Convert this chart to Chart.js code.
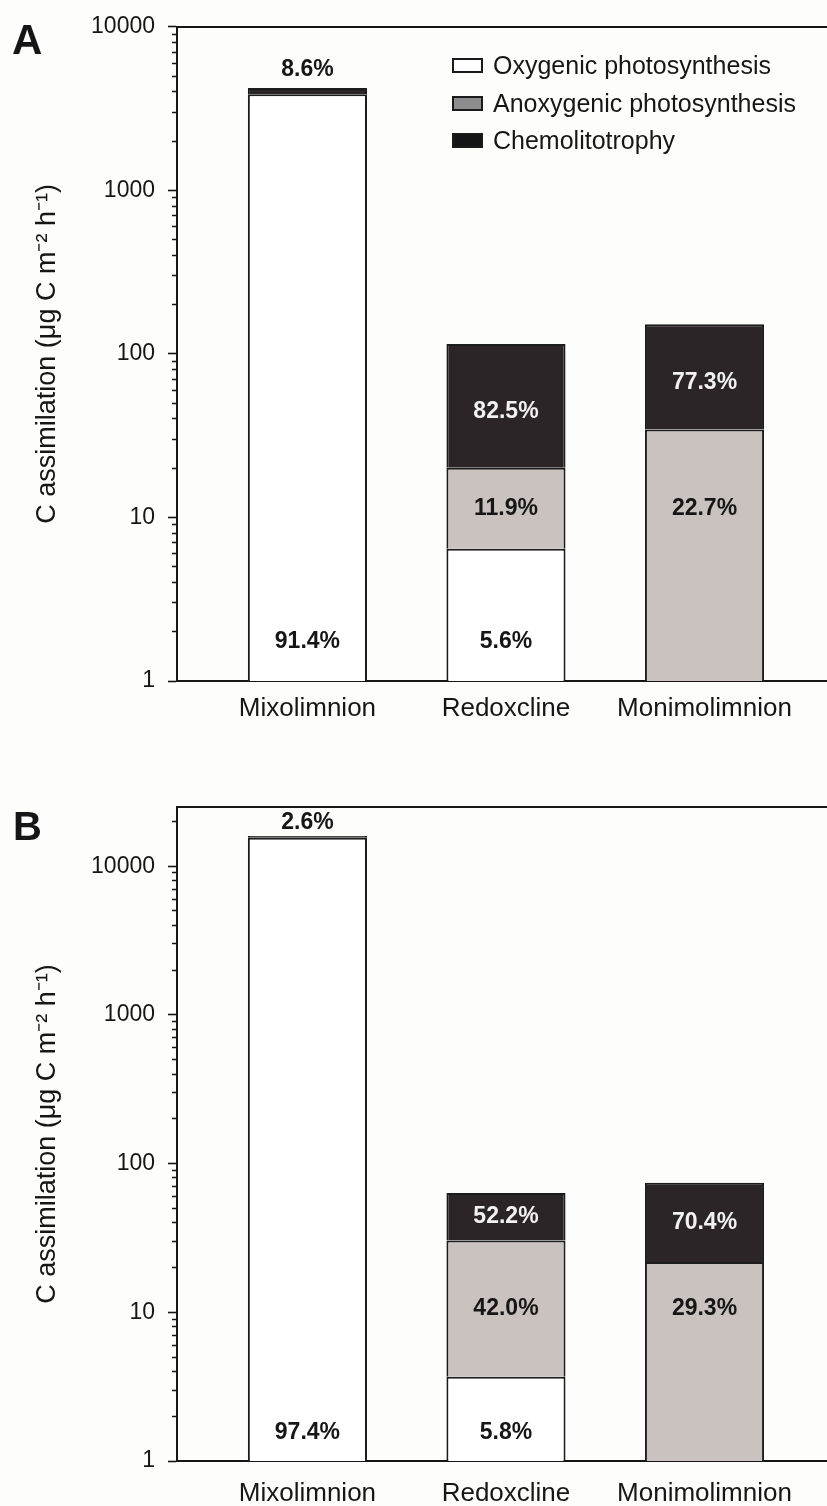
<!DOCTYPE html>
<html>
<head>
<meta charset="utf-8">
<script src="https://cdn.jsdelivr.net/npm/chart.js@4.4.1/dist/chart.umd.min.js"></script>
<style>
  html, body { margin: 0; padding: 0; width: 827px; height: 1506px; overflow: hidden; background: #fdfdfc; font-family: "Liberation Sans", Arial, sans-serif; color: #161616; }
  .panel { position: absolute; left: 0; width: 827px; }
  #panelA { top: 0; height: 740px; }
  #panelB { top: 740px; height: 766px; }
  .letter { position: absolute; font-weight: bold; line-height: 1; }
  .lg-row { position: absolute; left: 452px; height: 30px; display: flex; align-items: center; font-size: 25px; white-space: nowrap; }
  .lg-box { width: 31px; height: 15px; box-sizing: border-box; border: 2px solid #1a1a1a; margin-right: 10px; }
</style>
</head>
<body>
<div class="panel" id="panelA"><canvas id="chartA"></canvas></div>
<div class="panel" id="panelB"><canvas id="chartB"></canvas></div>
<div class="letter" style="left:12px; top:19px; font-size:42px;">A</div>
<div class="letter" style="left:13px; top:806px; font-size:40px;">B</div>
<div id="legend"></div>

<script>
// Layers of the water column
const categories = ['Mixolimnion', 'Redoxcline', 'Monimolimnion'];
const seriesNames = ['Oxygenic photosynthesis', 'Anoxygenic photosynthesis', 'Chemolitotrophy'];

// Panel A: total C assimilation per layer (µg C m-2 h-1) and share of each pathway (%)
const totalA = [4230, 115, 152];
const oxygenicPctA = [91.4, 5.6, 0];
const anoxygenicPctA = [0, 11.9, 22.7];
const chemoPctA = [8.6, 82.5, 77.3];

// Panel B
const totalB = [15960, 63.5, 74.5];
const oxygenicPctB = [97.4, 5.8, 0];
const anoxygenicPctB = [0, 42.0, 29.3];
const chemoPctB = [2.6, 52.2, 70.4];

// Labelled decades on the log axis
const yTickLabelsA = [1, 10, 100, 1000, 10000];
const yTickLabelsB = [1, 10, 100, 1000, 10000];

const FONT = '"Liberation Sans", Arial, sans-serif';
const INK = '#161616';
const fills = ['#ffffff', '#c9c2bf', '#2b2527'];
const legendFills = ['#ffffff', '#8d8d8d', '#151515'];
const labelColors = [INK, INK, '#f2f2f2'];

// Percent labels on each segment
const pctLabels = {
  id: 'pctLabels',
  afterDatasetsDraw(chart, args, opts) {
    const ctx = chart.ctx;
    const pcts = opts.pcts;
    const metas = [0, 1, 2].map(i => chart.getDatasetMeta(i));
    const seg = (i, j) => metas[i].data[j].getProps(['x', 'y', 'base'], true);
    // anoxygenic labels share one row: the middle of a segment that sits on an oxygenic one
    let anoxRow = null;
    categories.forEach((c, j) => {
      if (anoxRow === null && pcts[0][j] > 0 && pcts[1][j] > 0) {
        const s = seg(1, j);
        anoxRow = (s.y + s.base) / 2;
      }
    });
    ctx.save();
    ctx.font = 'bold 23px ' + FONT;
    ctx.textAlign = 'center';
    ctx.textBaseline = 'middle';
    for (let i = 0; i < 3; i++) {
      categories.forEach((c, j) => {
        const p = pcts[i][j];
        if (!p) return;
        const s = seg(i, j);
        let y;
        let color = labelColors[i];
        if (i === 0) {
          y = s.base - opts.bottomOffset;
        } else if (i === 1) {
          y = anoxRow !== null ? anoxRow : (s.y + s.base) / 2;
        } else if (s.base - s.y < 30) {
          y = s.y - opts.aboveGap;
          color = INK;
        } else {
          y = (s.y + s.base) / 2 + opts.centerShift;
        }
        ctx.fillStyle = color;
        ctx.fillText(p.toFixed(1) + '%', s.x, y);
      });
    }
    ctx.restore();
  }
};

function makeDatasets(total, pctLists) {
  return pctLists.map((pcts, i) => ({
    label: seriesNames[i],
    data: total.map((t, j) => ({ x: j, y: t * pcts[j] / 100 })),
    backgroundColor: fills[i],
    borderColor: '#1c1c1c',
    borderWidth: 2,
    barPercentage: 0.6,
    categoryPercentage: 1.0
  }));
}

function yAxis(maxVal, majors) {
  return {
    type: 'logarithmic',
    min: 1,
    max: maxVal,
    stacked: true,
    beginAtZero: false,
    afterBuildTicks(scale) {
      const t = [];
      for (let d = 1; d <= maxVal; d *= 10) {
        for (let k = 1; k <= 9; k++) {
          if (k * d <= maxVal) t.push({ value: k * d });
        }
      }
      scale.ticks = t;
    },
    afterFit(scale) { scale.width = 177; },
    ticks: {
      autoSkip: false,
      padding: 13,
      color: INK,
      font: { size: 23, family: FONT },
      callback: v => (majors.includes(v) ? String(v) : '')
    },
    grid: {
      drawOnChartArea: false,
      tickLength: 9,
      tickWidth: 1.6,
      tickColor: INK,
      tickBorderDash: c => (c.tick && majors.includes(c.tick.value) ? [] : [0, 4, 5, 100])
    },
    border: { display: true, color: INK, width: 2 },
    title: {
      display: true,
      text: 'C assimilation (μg C m⁻² h⁻¹)',
      color: INK,
      font: { size: 27, family: FONT },
      padding: { top: 31, bottom: 0 }
    }
  };
}

function xAxes(axisHeight, labelPad) {
  return {
    x: {
      type: 'linear',
      min: -0.657,
      max: 2.617,
      offset: false,
      stacked: true,
      afterBuildTicks(scale) { scale.ticks = categories.map((c, i) => ({ value: i })); },
      afterFit(scale) { scale.height = axisHeight; },
      ticks: {
        autoSkip: false,
        maxRotation: 0,
        padding: labelPad,
        color: INK,
        font: { size: 26, family: FONT },
        callback: v => (categories[v] !== undefined ? categories[v] : '')
      },
      grid: { display: true, offset: false, drawOnChartArea: false, drawTicks: false },
      border: { display: true, color: INK, width: 2 }
    },
    xTop: {
      type: 'linear',
      position: 'top',
      min: 0,
      max: 1,
      afterFit(scale) { scale.height = 0; },
      ticks: { display: false },
      grid: { display: true, drawOnChartArea: false, drawTicks: false },
      border: { display: true, color: INK, width: 2 }
    }
  };
}

function makeChart(id, total, pctLists, maxVal, majors, layout, labelOpts) {
  const scales = xAxes(layout.axisHeight, layout.labelPad);
  scales.y = yAxis(maxVal, majors);
  return new Chart(document.getElementById(id), {
    type: 'bar',
    data: { datasets: makeDatasets(total, pctLists) },
    options: {
      responsive: true,
      maintainAspectRatio: false,
      animation: false,
      layout: { padding: { top: layout.top, left: 0, right: 0, bottom: 0 } },
      scales,
      plugins: {
        legend: { display: false },
        tooltip: { enabled: false },
        pctLabels: Object.assign({ pcts: pctLists }, labelOpts)
      }
    },
    plugins: [pctLabels]
  });
}

makeChart('chartA', totalA, [oxygenicPctA, anoxygenicPctA, chemoPctA], 10000, yTickLabelsA,
  { top: 26, axisHeight: 59, labelPad: 12 },
  { aboveGap: 18, bottomOffset: 39, centerShift: 6 });

makeChart('chartB', totalB, [oxygenicPctB, anoxygenicPctB, chemoPctB], 25000, yTickLabelsB,
  { top: 67, axisHeight: 45, labelPad: 17 },
  { aboveGap: 13, bottomOffset: 28, centerShift: 0 });

// Legend for panel A
const legendRows = [50, 88, 125];
const legend = document.getElementById('legend');
seriesNames.forEach((name, i) => {
  const row = document.createElement('div');
  row.className = 'lg-row';
  row.style.top = legendRows[i] + 'px';
  const box = document.createElement('span');
  box.className = 'lg-box';
  box.style.background = legendFills[i];
  row.appendChild(box);
  row.appendChild(document.createTextNode(name));
  legend.appendChild(row);
});
</script>
</body>
</html>
